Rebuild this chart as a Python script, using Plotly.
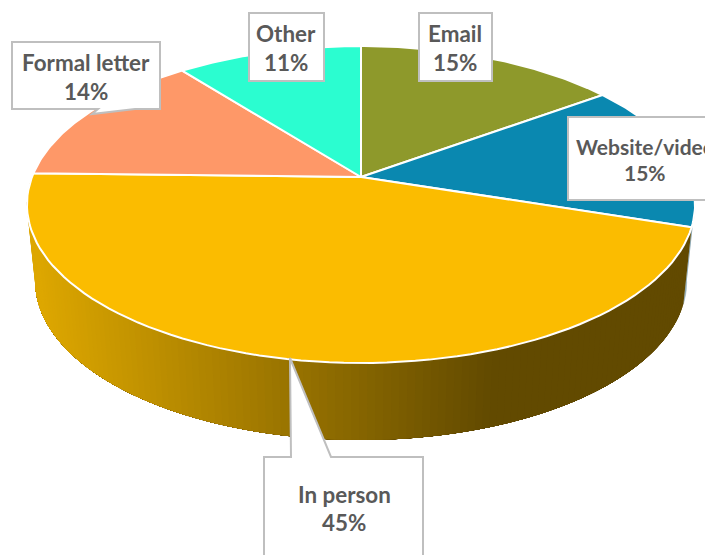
import numpy as np
import plotly.graph_objects as go

categories = ["Email", "Website/video", "In person", "Formal letter", "Other"]
values = [15, 15, 45.4, 14, 10.6]
top_colors = ["#8E992B", "#0A88B0", "#FBBC00", "#FE9868", "#2BFDD0"]
wall_stops_x = [40, 490]
wall_stops_rgb = [(221, 167, 0), (98, 74, 0)]

CX, CY = 361.0, 177.0
A, B, K = 329.0, 153.7, 0.1736
DEPTH, SHRINK = 77.0, 0.975


def rim(theta_deg):
    t = np.radians(theta_deg)
    X, Y = np.sin(t), -np.cos(t)
    w = 1 - K * Y
    return CX + A * X / w, CY + B * Y / w


def low(theta_deg):
    x, y = rim(theta_deg)
    return CX + (x - CX) * SHRINK, y + DEPTH


def wall_colour(x):
    f = np.clip((x - wall_stops_x[0]) / (wall_stops_x[1] - wall_stops_x[0]), 0, 1)
    c = [round(a + (b - a) * f) for a, b in zip(*wall_stops_rgb)]
    return f"rgb({c[0]},{c[1]},{c[2]})"


fig = go.Figure()
edges = np.concatenate([[0], np.cumsum(values)]) * 360 / sum(values)


def polygon(x, y, fill, line, width):
    fig.add_trace(go.Scatter(x=list(x), y=list(y), mode="lines", fill="toself",
                             fillcolor=fill, line=dict(color=line, width=width),
                             hoverinfo="skip", showlegend=False))


# side walls
th = np.linspace(max(edges[2] - 8, 90), edges[2], 6)
xt, yt = rim(th)
xb, yb = low(th)
polygon(np.r_[xt, xb[::-1]], np.r_[yt, yb[::-1]], "#8FA9B5", "#8FA9B5", 0.5)

# painter's order: each band runs to the far end of the wall and is overlaid by the next,
# so no seams appear between the gradient bands
end = min(edges[3], 270)
starts = np.linspace(edges[2], end, 140)[:-1]
for a, b in zip(starts, np.r_[starts[1:], end]):
    seg = np.linspace(a, end, 60)
    xt, yt = rim(seg)
    xb, yb = low(seg)
    xm = (rim((a + b) / 2)[0] + low((a + b) / 2)[0]) / 2
    c = wall_colour(xm)
    polygon(np.r_[xt, xb[::-1]], np.r_[yt, yb[::-1]], c, c, 0)

# top face
for i, colour in enumerate(top_colors):
    th = np.linspace(edges[i], edges[i + 1], 80)
    x, y = rim(th)
    polygon(np.r_[CX, x, CX], np.r_[CY, y, CY], colour, "white", 2)

BORDER = "#BFBFBF"
callouts = {
    "Email": ((419, 13, 492, 81), None, (455, 33, 62)),
    "Website/video": ((568, 117, 720, 200), None, (645, 146, 172)),
    "In person": ((264, 457, 423, 600), ((291, 457), (290, 358), (331, 457)), (344, 494, 522)),
    "Formal letter": ((12, 42, 160, 109), ((135, 109), (92, 114), (98, 109)), (86, 62, 91)),
    "Other": ((249, 13, 324, 81), None, (286, 33, 62)),
}
shapes, annotations = [], []
for name, value in zip(categories, values):
    (x0, y0, x1, y1), ptr, (tx, ty1, ty2) = callouts[name]
    path = f"M{x0},{y0}L{x1},{y0}L{x1},{y1}"
    if ptr and ptr[0][1] == y1 and ptr[0][0] > ptr[2][0]:
        path += "".join(f"L{p[0]},{p[1]}" for p in ptr)
    path += f"L{x0},{y1}L{x0},{y0}"
    if ptr and ptr[0][1] == y0:
        path = f"M{x0},{y0}" + "".join(f"L{p[0]},{p[1]}" for p in ptr) + f"L{x1},{y0}L{x1},{y1}L{x0},{y1}Z"
    else:
        path += "Z"
    shapes.append(dict(type="path", path=path, xref="x", yref="y", fillcolor="white",
                       line=dict(color=BORDER, width=2)))
    size = 21 if name == "Website/video" else 22.4
    font = dict(family="Lato", size=size, color="#595959", weight="bold")
    for text, ty in ((name, ty1), (f"{round(value)}%", ty2)):
        annotations.append(dict(x=tx, y=ty, xref="x", yref="y", text=text, showarrow=False,
                                xanchor="center", yanchor="middle", font=font))

fig.update_layout(
    width=705, height=555, margin=dict(l=0, r=0, t=0, b=0),
    paper_bgcolor="white", plot_bgcolor="white",
    xaxis=dict(range=[0, 705], visible=False, fixedrange=True),
    yaxis=dict(range=[555, 0], visible=False, fixedrange=True),
    shapes=shapes, annotations=annotations, showlegend=False,
)
fig.write_html("out.html", config=dict(displayModeBar=False),
               post_script="document.body.style.margin='0';document.body.style.overflow='hidden';")
